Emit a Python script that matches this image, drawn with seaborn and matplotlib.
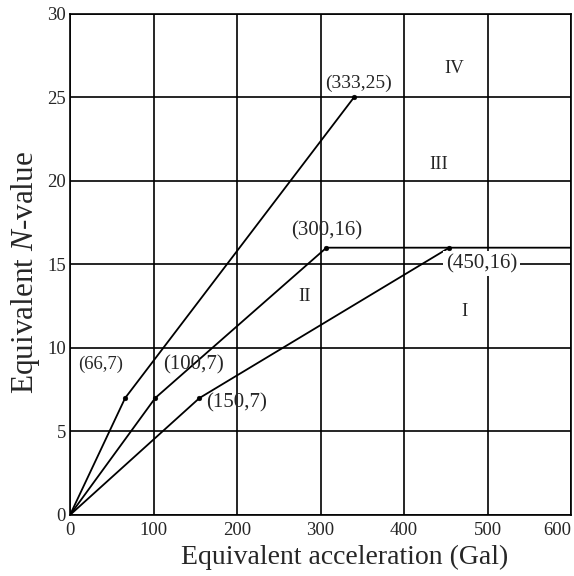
import pandas as pd
import seaborn as sns
import matplotlib.pyplot as plt

# boundary curves (acceleration in Gal, N-value)
line1_x = [0, 66, 340]
line1_y = [0, 7, 25]
line2_x = [0, 102, 307, 600]
line2_y = [0, 7, 16, 16]
line3_x = [0, 155, 454]
line3_y = [0, 7, 16]

# break points with dots
dot_x = [66, 102, 155, 307, 454, 340]
dot_y = [7, 7, 7, 16, 16, 25]

x_ticks = [0, 100, 200, 300, 400, 500, 600]
y_ticks = [0, 5, 10, 15, 20, 25, 30]

sns.set_style("white")
plt.rcParams["font.family"] = ["Liberation Serif", "DejaVu Serif"]
plt.rcParams["mathtext.fontset"] = "custom"
plt.rcParams["mathtext.rm"] = "Liberation Serif"
plt.rcParams["mathtext.it"] = "Liberation Serif:italic"

lines = pd.concat([
    pd.DataFrame({"acc": line1_x, "N": line1_y, "curve": "a"}),
    pd.DataFrame({"acc": line2_x, "N": line2_y, "curve": "b"}),
    pd.DataFrame({"acc": line3_x, "N": line3_y, "curve": "c"}),
], ignore_index=True)
dots = pd.DataFrame({"acc": dot_x, "N": dot_y})

fig = plt.figure(figsize=(5.74, 5.76), dpi=100)
ax = fig.add_axes([0.122, 0.106, 0.873, 0.870])

sns.lineplot(data=lines, x="acc", y="N", units="curve", estimator=None,
             sort=False, color="black", lw=1.3, ax=ax, zorder=3)
sns.scatterplot(data=dots, x="acc", y="N", color="black", s=12,
                edgecolor="black", ax=ax, zorder=4)

ax.set_xlim(0, 600)
ax.set_ylim(0, 30)
ax.set_xticks(x_ticks)
ax.set_yticks(y_ticks)
ax.grid(True, color="black", lw=1.2)
ax.set_axisbelow(True)
for s in ax.spines.values():
    s.set_color("black")
    s.set_linewidth(1.2)
ax.tick_params(length=0, labelsize=13.5)
ax.tick_params(axis="x", pad=5)
ax.tick_params(axis="y", pad=3)
ax.get_xticklabels()[-1].set_horizontalalignment("right")

ax.set_xlabel("Equivalent acceleration (Gal)", fontsize=20)
ax.xaxis.set_label_coords(0.548, -0.084, transform=ax.transAxes)
ax.xaxis.label.set_va("center")
ax.set_ylabel("Equivalent $N$-value", fontsize=22.5)
ax.yaxis.set_label_coords(-0.088, 0.484, transform=ax.transAxes)
ax.yaxis.label.set_va("center")

ax.text(346, 25.85, "(333,25)", fontsize=14, ha="center", va="center")
ax.text(460, 26.75, "IV", fontsize=13.5, ha="center", va="center")
ax.text(442, 21.0, "III", fontsize=13.5, ha="center", va="center")
ax.text(307, 17.0, "(300,16)", fontsize=15, ha="center", va="center")
ax.text(493, 15.05, "(450,16)", fontsize=15, ha="center", va="center",
        bbox=dict(facecolor="white", edgecolor="none", pad=2))
ax.text(281, 13.05, "II", fontsize=13.5, ha="center", va="center")
ax.text(472, 12.2, "I", fontsize=13.5, ha="center", va="center")
ax.text(37, 9.0, "(66,7)", fontsize=13.5, ha="center", va="center")
ax.text(148, 9.0, "(100,7)", fontsize=15, ha="center", va="center")
ax.text(200, 6.7, "(150,7)", fontsize=15, ha="center", va="center")

fig.savefig("out.png", dpi=100)
